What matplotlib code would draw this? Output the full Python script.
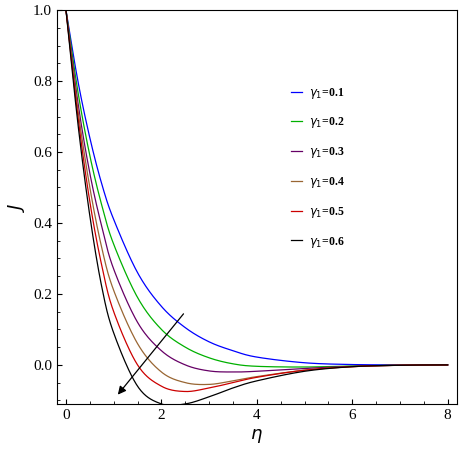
import numpy as np
import matplotlib
matplotlib.use("Agg")
import matplotlib.pyplot as plt

eta = [0, 0.25, 0.5, 0.75, 1, 1.5, 2, 2.5, 3, 3.5, 4, 5, 6, 7, 8]
J01 = [1, 0.80, 0.64, 0.51, 0.41, 0.26, 0.165, 0.105, 0.065, 0.04, 0.022, 0.006, 0.001, 0, 0]
J02 = [1, 0.77, 0.59, 0.45, 0.34, 0.19, 0.10, 0.05, 0.02, 0.003, -0.004, -0.006, -0.003, -0.001, 0]
J03 = [1, 0.74, 0.54, 0.39, 0.27, 0.12, 0.04, 0.0, -0.017, -0.02, -0.018, -0.01, -0.004, -0.001, 0]
J04 = [1, 0.72, 0.50, 0.33, 0.21, 0.06, -0.02, -0.05, -0.055, -0.045, -0.033, -0.015, -0.005, -0.001, 0]
J05 = [1, 0.70, 0.46, 0.28, 0.15, 0.0, -0.06, -0.075, -0.065, -0.05, -0.035, -0.015, -0.005, -0.001, 0]
J06 = [1, 0.68, 0.42, 0.22, 0.09, -0.06, -0.11, -0.11, -0.09, -0.065, -0.045, -0.018, -0.005, -0.001, 0]
labels = ["0.1", "0.2", "0.3", "0.4", "0.5", "0.6"]
colors = ["#0000ff", "#00b000", "#660066", "#996633", "#cc0000", "#000000"]

def smooth(x, y, n=20):
    x = np.asarray(x, float); y = np.asarray(y, float)
    xp = np.concatenate([[2*x[0]-x[1]], x, [2*x[-1]-x[-2]]])
    yp = np.concatenate([[2*y[0]-y[1]], y, [2*y[-1]-y[-2]]])
    X, Y = [], []
    for i in range(1, len(x)):
        t = np.linspace(0, 1, n, endpoint=False)
        for arr, out in ((xp, X), (yp, Y)):
            p0, p1, p2, p3 = arr[i-1], arr[i], arr[i+1], arr[i+2]
            out.extend(0.5*((2*p1) + (-p0+p2)*t + (2*p0-5*p1+4*p2-p3)*t**2 + (-p0+3*p1-3*p2+p3)*t**3))
    X.append(x[-1]); Y.append(y[-1])
    return X, Y

plt.rcParams['font.family'] = ['Liberation Serif', 'DejaVu Serif']
fig = plt.figure(figsize=(4.59, 4.59), dpi=100)
ax = fig.add_axes([0.124, 0.12, 0.871, 0.858])
for ys, lab, c in zip([J01, J02, J03, J04, J05, J06], labels, colors):
    X, Y = smooth(eta, ys)
    ax.plot(X, Y, color=c, lw=0.9, label=r"$\gamma_1$=" + lab)
ax.annotate("", xy=(1.05, -0.09), xytext=(2.5, 0.15),
            arrowprops=dict(arrowstyle="-|>", color="black", lw=0.9, mutation_scale=12))
ax.set_xlim(-0.19, 8.19)
ax.set_ylim(-0.11, 1.0)
ax.set_xticks([0, 2, 4, 6, 8])
ax.set_yticks([0.0, 0.2, 0.4, 0.6, 0.8, 1.0])
ax.set_yticklabels(["0.0", "0.2", "0.4", "0.6", "0.8", "1.0"])
ax.set_xticks(np.arange(0, 8.1, 0.5), minor=True)
ax.set_yticks(np.arange(-0.1, 1.0, 0.05), minor=True)
ax.tick_params(direction="in", labelsize=11, top=False, right=False)
ax.tick_params(which="minor", direction="in", length=2, top=False, right=False)
ax.set_xlabel(r"$\eta$", fontsize=13)
ax.set_ylabel(r"$J$", fontsize=13)
leg = ax.legend(loc="center left", bbox_to_anchor=(0.56, 0.6), frameon=False,
                handlelength=0.9, handletextpad=0.6, labelspacing=1.25,
                prop={'weight': 'bold', 'size': 8.5})
fig.savefig("out.png", dpi=100)
